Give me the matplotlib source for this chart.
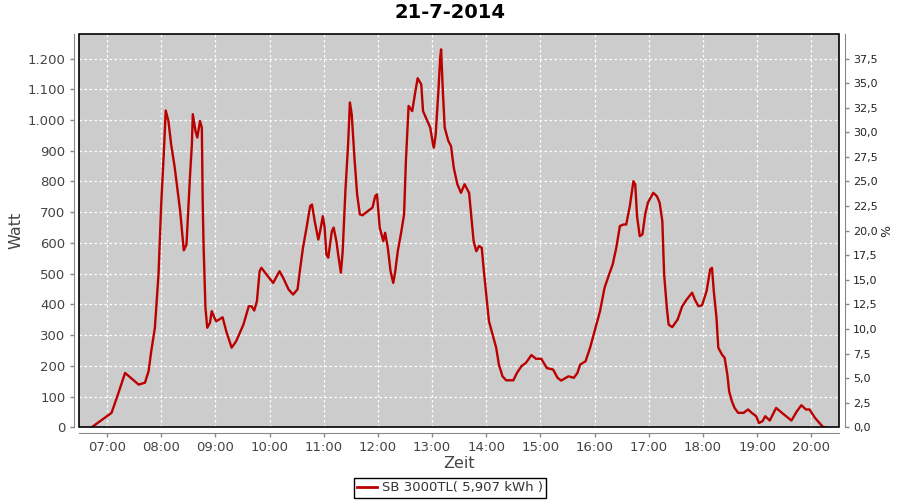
import matplotlib
matplotlib.use('Agg')
import matplotlib.pyplot as plt
from matplotlib.patches import Rectangle
from matplotlib.lines import Line2D
from matplotlib.ticker import FuncFormatter, MultipleLocator

# leistung des wechselrichters am 21-7-2014
times = ['06:43', '07:00', '07:05', '07:12', '07:20', '07:35', '07:42', '07:46', '07:49', '07:53',
	'07:57', '08:00', '08:03', '08:05', '08:08', '08:11', '08:15', '08:21', '08:25', '08:28',
	'08:32', '08:34', '08:35', '08:38', '08:40', '08:43', '08:45', '08:46', '08:47', '08:49',
	'08:51', '08:54', '08:56', '08:59', '09:01', '09:08', '09:12', '09:18', '09:23', '09:31',
	'09:37', '09:40', '09:43', '09:46', '09:49', '09:51', '09:58', '10:04', '10:08', '10:11',
	'10:15', '10:21', '10:26', '10:31', '10:34', '10:37', '10:41', '10:45', '10:47', '10:50',
	'10:54', '10:56', '10:59', '11:01', '11:03', '11:05', '11:09', '11:11', '11:14', '11:16',
	'11:19', '11:21', '11:24', '11:27', '11:29', '11:31', '11:34', '11:37', '11:40', '11:43',
	'11:49', '11:54', '11:57', '11:59', '12:02', '12:06', '12:08', '12:11', '12:14', '12:17',
	'12:19', '12:22', '12:26', '12:29', '12:31', '12:34', '12:38', '12:41', '12:44', '12:48',
	'12:50', '12:54', '12:58', '13:01', '13:02', '13:04', '13:07', '13:09', '13:10', '13:12',
	'13:14', '13:18', '13:21', '13:24', '13:28', '13:32', '13:36', '13:41', '13:44', '13:46',
	'13:49', '13:52', '13:55', '13:57', '14:00', '14:03', '14:08', '14:11', '14:14', '14:18',
	'14:22', '14:30', '14:34', '14:39', '14:44', '14:50', '14:55', '15:01', '15:07', '15:14',
	'15:19', '15:23', '15:31', '15:37', '15:41', '15:44', '15:50', '15:55', '16:00', '16:06',
	'16:11', '16:16', '16:20', '16:24', '16:28', '16:32', '16:35', '16:39', '16:43', '16:45',
	'16:47', '16:50', '16:53', '16:56', '16:59', '17:05', '17:09', '17:12', '17:15', '17:17',
	'17:20', '17:22', '17:26', '17:32', '17:37', '17:42', '17:48', '17:51', '17:55', '17:59',
	'18:04', '18:08', '18:10', '18:12', '18:15', '18:17', '18:21', '18:24', '18:27', '18:29',
	'18:32', '18:35', '18:39', '18:45', '18:50', '18:54', '18:59', '19:02', '19:06', '19:09',
	'19:14', '19:21', '19:30', '19:38', '19:44', '19:49', '19:54', '19:58', '20:04', '20:09',
	'20:13', '20:15']
watt = [0, 36, 47, 106, 177, 139, 145, 182, 248, 324,
	497, 725, 899, 1031, 997, 921, 845, 704, 576, 595,
	823, 921, 1019, 964, 943, 997, 975, 725, 585, 389,
	324, 340, 378, 356, 345, 358, 313, 259, 280, 334,
	394, 394, 380, 410, 508, 519, 492, 470, 492, 508,
	487, 449, 432, 449, 519, 584, 650, 720, 725, 671,
	611, 638, 687, 650, 562, 552, 638, 650, 606, 562,
	503, 573, 769, 921, 1057, 1019, 878, 758, 693, 690,
	704, 715, 752, 758, 650, 606, 633, 584, 508, 470,
	503, 573, 638, 693, 866, 1046, 1029, 1084, 1136, 1116,
	1029, 1002, 975, 921, 910, 953, 1094, 1203, 1230, 1089,
	975, 932, 915, 845, 791, 763, 791, 763, 671, 606,
	573, 590, 584, 519, 432, 345, 291, 259, 204, 166,
	153, 153, 177, 199, 210, 235, 223, 223, 193, 188,
	161, 152, 166, 161, 177, 204, 215, 259, 313, 378,
	454, 497, 530, 584, 655, 660, 660, 720, 801, 791,
	687, 622, 628, 693, 731, 763, 752, 731, 671, 497,
	389, 334, 326, 351, 394, 416, 438, 416, 394, 397,
	443, 514, 519, 443, 356, 259, 237, 226, 172, 117,
	85, 63, 47, 47, 58, 47, 36, 14, 20, 36,
	22, 63, 41, 22, 52, 72, 58, 58, 31, 14,
	1, 0]
hours = ['07:00', '08:00', '09:00', '10:00', '11:00', '12:00', '13:00',
	'14:00', '15:00', '16:00', '17:00', '18:00', '19:00', '20:00']
series_name = 'SB 3000TL( 5,907 kWh )'
title = '21-7-2014'

def to_min(s):
	h, m = s.split(':')
	return int(h) * 60 + int(m)

def main():
	fig = plt.figure(figsize=(9, 5), dpi=100)
	ax = fig.add_axes([79.3 / 900, 1 - 427.3 / 500, 760 / 900, 393 / 500])
	ax.set_facecolor('#cccccc')

	x = [to_min(t) for t in times]
	ax.plot(x, watt, '-', color='#bb0000', lw=1.7, zorder=3)

	ax.set_xlim(389.3, 1231)
	ax.set_ylim(0, 1279)
	ax.set_xticks([to_min(h) for h in hours])
	ax.set_xticklabels(hours)
	ax.yaxis.set_major_locator(MultipleLocator(100))
	ax.yaxis.set_major_formatter(FuncFormatter(lambda v, p: '{:,}'.format(int(v)).replace(',', '.')))
	ax.grid(True, color='white', ls=(0, (2, 2)), lw=0.9)

	ax2 = ax.twinx()
	ax2.set_ylim(0, 1279 / 32.0)
	ax2.yaxis.set_major_locator(MultipleLocator(2.5))
	ax2.yaxis.set_major_formatter(FuncFormatter(lambda v, p: '{:.1f}'.format(v).replace('.', ',')))

	for a in (ax, ax2):
		for s in a.spines.values():
			s.set_visible(False)
	for a, side in ((ax, 'left'), (ax, 'bottom'), (ax2, 'right')):
		a.spines[side].set_visible(True)
		a.spines[side].set_position(('outward', 4))
		a.spines[side].set_color('#888888')
	ax.tick_params(colors='#888888', labelcolor='#444444', length=3, width=1, labelsize=9.5, pad=3)
	ax2.tick_params(colors='#888888', labelcolor='#222222', length=3, width=1, labelsize=8, pad=3)

	# schwarzer rahmen um den plotbereich
	ax.add_patch(Rectangle((0, 0), 1, 1, transform=ax.transAxes, fill=False,
		edgecolor='black', lw=1.2, clip_on=False, zorder=5))

	ax.set_xlabel('Zeit', fontsize=11.5, color='#444444', labelpad=1)
	ax.set_ylabel('Watt', fontsize=11.5, color='#444444', labelpad=3)
	ax2.set_ylabel('%', fontsize=9, color='#222222', labelpad=2)

	fig.text(0.5, 1 - 13 / 500, title, ha='center', va='center', fontsize=14, fontweight='bold')

	h = [Line2D([], [], color='#bb0000', lw=2)]
	leg = fig.legend(h, [series_name], loc='center', bbox_to_anchor=(450 / 900, 1 - 488 / 500),
		fontsize=9.5, frameon=True, fancybox=False, framealpha=1, edgecolor='black',
		handlelength=1.5, handletextpad=0.4, borderpad=0.25, borderaxespad=0)
	leg.get_frame().set_linewidth(1)
	for t in leg.get_texts():
		t.set_color('#333333')

	fig.savefig('out.png', dpi=100)

if __name__ == "__main__":
	main()
